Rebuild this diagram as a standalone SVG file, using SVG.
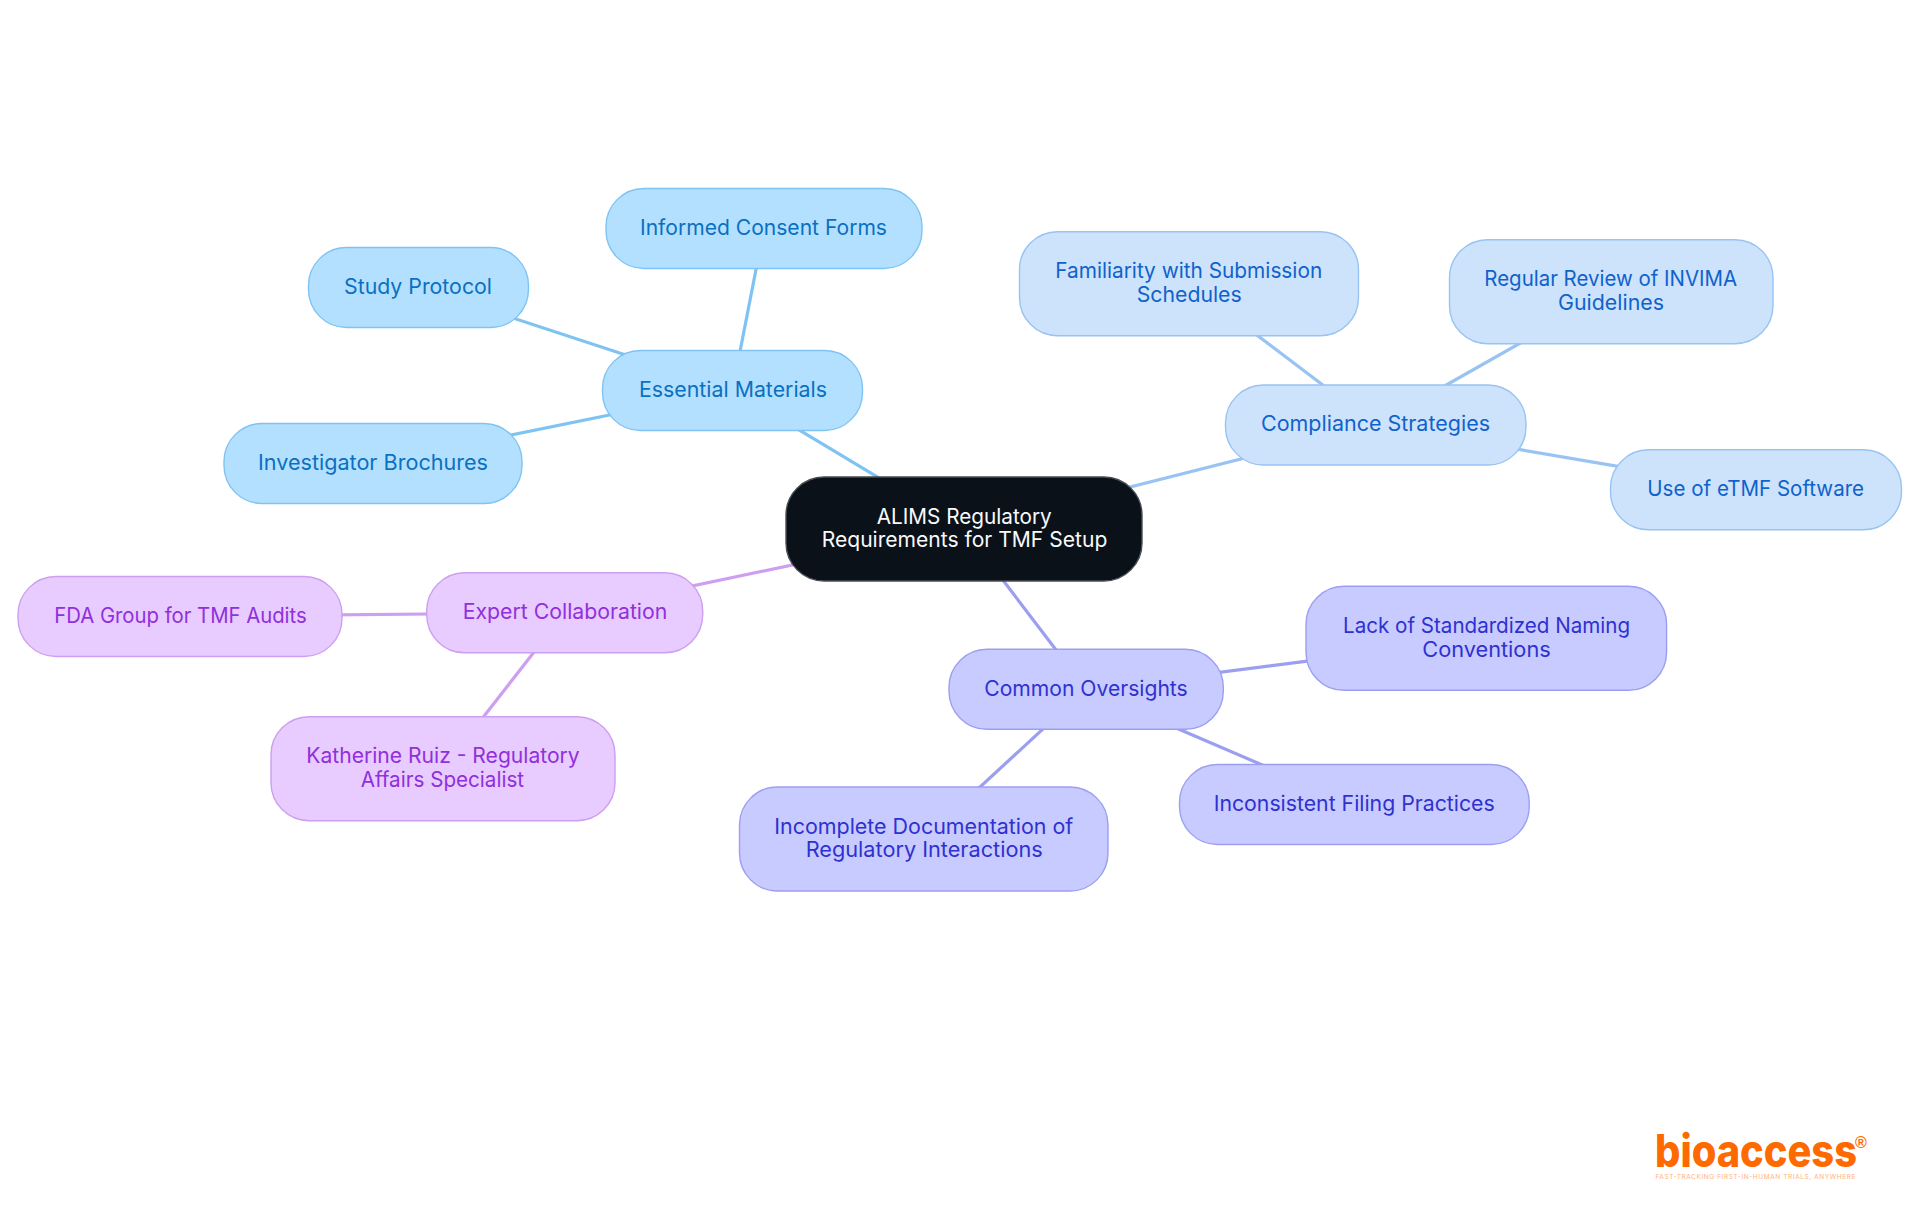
<svg xmlns="http://www.w3.org/2000/svg" width="1920" height="1215" viewBox="0 0 1920 1215">
<style>
text{font-family:"Inter","Noto Sans","Liberation Sans",sans-serif;font-size:21.3px;font-weight:380;text-anchor:middle}
#connectors line{stroke-width:3.2;fill:none}
g rect{stroke-width:1.4}
.r rect{fill:#0b1119;stroke:#4a4d52}.r text{fill:#f8f9fa}
.a rect{fill:#b4e0ff;stroke:#7fc3f3}.a text{fill:#0a70bf}.a-l{stroke:#7fc3f3}
.b rect{fill:#cde3fc;stroke:#98c3f2}.b text{fill:#1062cb}.b-l{stroke:#98c3f2}
.c rect{fill:#c8cbff;stroke:#9c9ff0}.c text{fill:#2f31cf}.c-l{stroke:#9c9ff0}
.d rect{fill:#e8cbff;stroke:#cd9ff0}.d text{fill:#9030dc}.d-l{stroke:#cd9ff0}
#logo text{fill:#ff6a00}
</style>
<rect width="1920" height="1215" fill="#ffffff" stroke="none"/>
<g id="connectors">
<line class="a-l" x1="964" y1="529" x2="732.5" y2="390"/>
<line class="a-l" x1="732.5" y1="390" x2="764" y2="228.5"/>
<line class="a-l" x1="732.5" y1="390" x2="418.5" y2="287"/>
<line class="a-l" x1="732.5" y1="390" x2="373" y2="463"/>
<line class="b-l" x1="964" y1="529" x2="1375.6" y2="425"/>
<line class="b-l" x1="1375.6" y1="425" x2="1189" y2="283.7"/>
<line class="b-l" x1="1375.6" y1="425" x2="1611" y2="291.7"/>
<line class="b-l" x1="1375.6" y1="425" x2="1756" y2="489.8"/>
<line class="c-l" x1="964" y1="529" x2="1086" y2="689.3"/>
<line class="c-l" x1="1086" y1="689.3" x2="923.6" y2="839"/>
<line class="c-l" x1="1086" y1="689.3" x2="1354.3" y2="804.5"/>
<line class="c-l" x1="1086" y1="689.3" x2="1486.3" y2="638.3"/>
<line class="d-l" x1="964" y1="529" x2="564.7" y2="612.7"/>
<line class="d-l" x1="564.7" y1="612.7" x2="180" y2="616.4"/>
<line class="d-l" x1="564.7" y1="612.7" x2="443" y2="768.7"/>
</g>
<g id="root" class="r"><rect x="786" y="477" width="356" height="104" rx="38"/><text x="964.2" y="524" textLength="175" lengthAdjust="spacingAndGlyphs">ALIMS Regulatory</text><text x="964.5" y="547.3" textLength="285.6" lengthAdjust="spacingAndGlyphs">Requirements for TMF Setup</text></g>
<g id="essential" class="a"><rect x="602.5" y="350.5" width="260" height="80" rx="38"/><text x="733" y="396.7" textLength="188" lengthAdjust="spacingAndGlyphs">Essential Materials</text></g>
<g id="informed" class="a"><rect x="606" y="188.5" width="316" height="80" rx="38"/><text x="763.5" y="234.7" textLength="247" lengthAdjust="spacingAndGlyphs">Informed Consent Forms</text></g>
<g id="study" class="a"><rect x="308.5" y="247.5" width="220" height="80" rx="38"/><text x="418" y="294" textLength="148" lengthAdjust="spacingAndGlyphs">Study Protocol</text></g>
<g id="investigator" class="a"><rect x="224" y="423.5" width="298" height="80" rx="38"/><text x="373" y="470" textLength="230" lengthAdjust="spacingAndGlyphs">Investigator Brochures</text></g>
<g id="compliance" class="b"><rect x="1225.5" y="385" width="300.5" height="80" rx="38"/><text x="1375.5" y="430.7" textLength="229" lengthAdjust="spacingAndGlyphs">Compliance Strategies</text></g>
<g id="familiarity" class="b"><rect x="1019.5" y="231.7" width="339" height="104" rx="38"/><text x="1188.7" y="278.3" textLength="267" lengthAdjust="spacingAndGlyphs">Familiarity with Submission</text><text x="1189.2" y="302" textLength="105" lengthAdjust="spacingAndGlyphs">Schedules</text></g>
<g id="regular" class="b"><rect x="1449.5" y="239.7" width="323.5" height="104" rx="38"/><text x="1610.7" y="286" textLength="252.7" lengthAdjust="spacingAndGlyphs">Regular Review of INVIMA</text><text x="1611" y="310" textLength="106" lengthAdjust="spacingAndGlyphs">Guidelines</text></g>
<g id="etmf" class="b"><rect x="1610.5" y="449.8" width="291" height="80" rx="38"/><text x="1755.7" y="495.7" textLength="216.7" lengthAdjust="spacingAndGlyphs">Use of eTMF Software</text></g>
<g id="common" class="c"><rect x="949" y="649.3" width="274.3" height="80" rx="38"/><text x="1086" y="695.7" textLength="203.4" lengthAdjust="spacingAndGlyphs">Common Oversights</text></g>
<g id="incomplete" class="c"><rect x="739.5" y="787" width="368.5" height="104" rx="38"/><text x="923.8" y="834" textLength="299" lengthAdjust="spacingAndGlyphs">Incomplete Documentation of</text><text x="924.2" y="857.4" textLength="237" lengthAdjust="spacingAndGlyphs">Regulatory Interactions</text></g>
<g id="inconsistent" class="c"><rect x="1179.5" y="764.5" width="349.7" height="80" rx="38"/><text x="1354.2" y="811" textLength="281" lengthAdjust="spacingAndGlyphs">Inconsistent Filing Practices</text></g>
<g id="lack" class="c"><rect x="1306" y="586.3" width="360.6" height="104" rx="38"/><text x="1486.5" y="633" textLength="287" lengthAdjust="spacingAndGlyphs">Lack of Standardized Naming</text><text x="1486.5" y="657" textLength="128.4" lengthAdjust="spacingAndGlyphs">Conventions</text></g>
<g id="expert" class="d"><rect x="426.7" y="572.8" width="276" height="80" rx="38"/><text x="565" y="619" textLength="204.6" lengthAdjust="spacingAndGlyphs">Expert Collaboration</text></g>
<g id="fda" class="d"><rect x="18" y="576.5" width="324" height="80" rx="38"/><text x="180.5" y="622.7" textLength="252.4" lengthAdjust="spacingAndGlyphs">FDA Group for TMF Audits</text></g>
<g id="katherine" class="d"><rect x="271" y="716.7" width="344" height="104" rx="38"/><text x="443" y="762.7" textLength="273.4" lengthAdjust="spacingAndGlyphs">Katherine Ruiz - Regulatory</text><text x="442.4" y="786.7" textLength="163.3" lengthAdjust="spacingAndGlyphs">Affairs Specialist</text></g>
<g id="logo">
<text x="1756" y="1167" style="font-size:45px;font-weight:800" textLength="202" lengthAdjust="spacingAndGlyphs">bioaccess</text>
<text x="1855" y="1148" style="font-size:16px;font-weight:700;text-anchor:start;font-family:'Liberation Sans',sans-serif">®</text>
<text x="1755.5" y="1179" style="font-size:6.5px;fill:#ffb27a" textLength="200" lengthAdjust="spacing">FAST-TRACKING FIRST-IN-HUMAN TRIALS, ANYWHERE</text>
</g>
</svg>
